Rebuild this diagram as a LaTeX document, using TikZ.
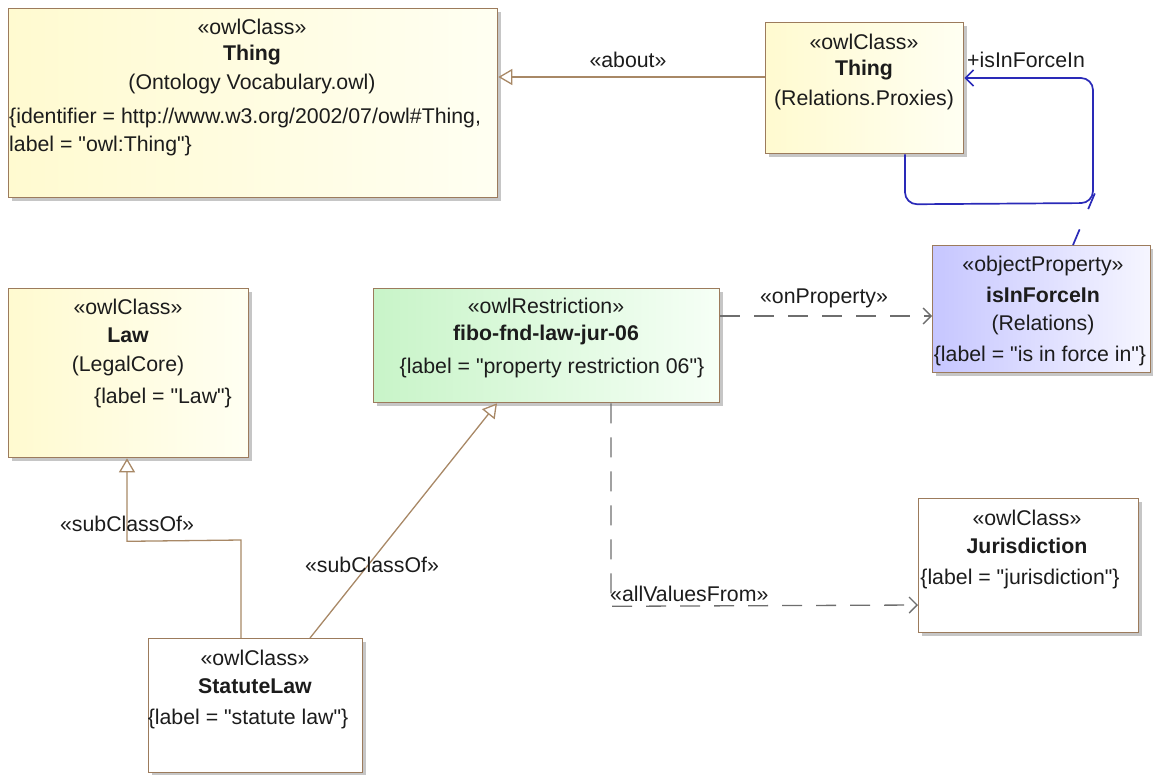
\documentclass[tikz,border=0pt]{standalone}
\usepackage{fontspec}
\setmainfont{Liberation Sans}[Ligatures=TeXOff]
\usetikzlibrary{arrows.meta,shadows,calc}
\definecolor{brd}{HTML}{9C7B5C}
\definecolor{lnk}{HTML}{A88866}
\definecolor{dsh}{HTML}{6E6E6E}
\definecolor{blu}{HTML}{2A2AB8}
\definecolor{txtc}{HTML}{1C1C1C}
\definecolor{yelA}{HTML}{FFFAD0}
\definecolor{yelB}{HTML}{FFFFF2}
\definecolor{grnA}{HTML}{C8F4C8}
\definecolor{grnB}{HTML}{F6FFF6}
\definecolor{bluA}{HTML}{C6C6FF}
\definecolor{bluB}{HTML}{F6F6FF}
\begin{document}
\begin{tikzpicture}[x=1pt,y=-1pt,
  font=\fontsize{21.3}{25}\selectfont,
  box/.style={draw=brd, line width=1.3pt, anchor=north west, inner sep=0pt,
    drop shadow={shadow xshift=3.5pt, shadow yshift=-3.5pt, fill=black!50, opacity=0.45}},
  yelbox/.style={left color=yelA, right color=yelB},
  grnbox/.style={left color=grnA, right color=grnB},
  blubox/.style={left color=bluA, right color=bluB},
  whtbox/.style={fill=white},
  txt/.style={inner sep=0pt, text=txtc},
  ltxt/.style={inner sep=0pt, text=txtc, anchor=west},
  gen/.style={draw=lnk, line width=1.3pt, -{Triangle[open, length=14pt, width=16pt, fill=white]}},
  dep/.style={draw=dsh, line width=1.3pt, dash pattern=on 20pt off 14pt, -{Straight Barb[length=8pt, width=16pt]}},
  assoc/.style={draw=blu, line width=1.7pt, rounded corners=12pt}
]
\useasboundingbox (0,0) rectangle (1153,774);

% boxes
\node[box, yelbox, minimum width=489pt, minimum height=189pt] (thingA) at (8,8) {};
\node[box, yelbox, minimum width=198pt, minimum height=131pt] (thingR) at (765,22) {};
\node[box, blubox, minimum width=218pt, minimum height=127pt] (prop) at (932,245) {};
\node[box, grnbox, minimum width=346pt, minimum height=114pt] (fibo) at (373,288) {};
\node[box, yelbox, minimum width=240pt, minimum height=169pt] (law) at (8,288) {};
\node[box, whtbox, minimum width=214pt, minimum height=134pt] (statute) at (148,638) {};
\node[box, whtbox, minimum width=220pt, minimum height=134pt] (juris) at (918,498) {};

% texts: Thing (Ontology Vocabulary)
\node[txt] (tA1) at (252,27) {«owlClass»};
\node[txt] (tA2) at (252,55) {\bfseries Thing};
\node[txt] (tA3) at (252,84) {(Ontology Vocabulary.owl)};
\node[ltxt] (tA4) at (9,118) {\{identifier = http://www.w3.org/2002/07/owl\#Thing,};
\node[ltxt] (tA5) at (9,146) {label = "owl:Thing"\}};

% Thing (Relations.Proxies)
\node[txt] (tR1) at (864,42) {«owlClass»};
\node[txt] (tR2) at (864,70) {\bfseries Thing};
\node[txt] (tR3) at (864,100) {(Relations.Proxies)};

% isInForceIn
\node[txt] (tP1) at (1043,266) {«objectProperty»};
\node[txt] (tP2) at (1043,295) {\bfseries isInForceIn};
\node[txt] (tP3) at (1043,325) {(Relations)};
\node[txt] (tP4) at (1040,356) {\{label = "is in force in"\}};

% fibo restriction
\node[txt] (tF1) at (546,306) {«owlRestriction»};
\node[txt] (tF2) at (546,335) {\bfseries fibo-fnd-law-jur-06};
\node[txt] (tF3) at (552,368) {\{label = "property restriction 06"\}};

% Law
\node[txt] (tL1) at (128,307) {«owlClass»};
\node[txt] (tL2) at (128,335) {\bfseries Law};
\node[txt] (tL3) at (128,366) {(LegalCore)};
\node[txt] (tL4) at (163,398) {\{label = "Law"\}};

% StatuteLaw
\node[txt] (tS1) at (255,658) {«owlClass»};
\node[txt] (tS2) at (255,686) {\bfseries StatuteLaw};
\node[txt] (tS3) at (248,719) {\{label = "statute law"\}};

% Jurisdiction
\node[txt] (tJ1) at (1027,518) {«owlClass»};
\node[txt] (tJ2) at (1027,546) {\bfseries Jurisdiction};
\node[txt] (tJ3) at (1020,579) {\{label = "jurisdiction"\}};

% connectors
% about
\draw[gen] ($(thingR.north west)+(0,55)$) -- ($(thingA.north east)+(0,69)$);
\node[txt] (lAbout) at (628,60) {«about»};

% association isInForceIn (self loop)
\coordinate (aCorner) at (1095,193);
\draw[assoc, -{Straight Barb[length=8pt, width=16pt]}]
  ($(thingR.south west)+(140,0)$) -- ++(0,50) -- (1093,203) -- (1093,78) -- ($(thingR.north east)+(0,56)$);
\draw[draw=blu, line width=1.7pt, dash pattern=on 17pt off 22pt] ($(prop.north west)+(141,0)$) -- (aCorner);
\node[ltxt] (lForce) at (967,60) {+isInForceIn};

% onProperty
\draw[dep] ($(fibo.north east)+(0,28)$) -- ($(prop.north west)+(0,71)$);
\node[txt] (lOnProp) at (824,298) {«onProperty»};

% allValuesFrom
\draw[dep] ($(fibo.south west)+(238,0)$) -- ++(0,203) -- ($(juris.north west)+(0,107)$);
\node[ltxt] (lAll) at (610,594) {«allValuesFrom»};

% subClassOf -> Law
\draw[gen] ($(statute.north west)+(93,0)$) -- ++(0,-98) -- ($(law.south west)+(119,83)$) -- ($(law.south west)+(119,0)$);
\node[txt] (lSub1) at (127,524) {«subClassOf»};

% subClassOf -> fibo
\draw[gen] ($(statute.north west)+(162,0)$) -- ($(fibo.south west)+(124,0)$);
\node[txt] (lSub2) at (372,565) {«subClassOf»};
\end{tikzpicture}
\end{document}
